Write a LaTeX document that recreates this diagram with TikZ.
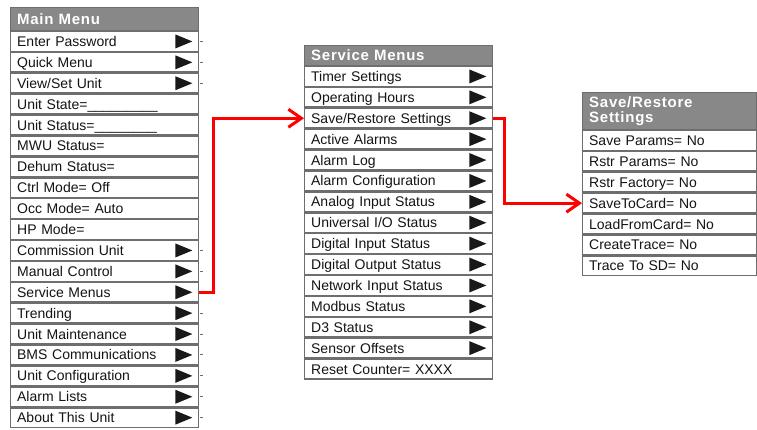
\documentclass[tikz,border=0pt]{standalone}
\usepackage{fontspec}
\setmainfont{Liberation Sans}
\newfontfamily\hdrfont[LetterSpace=5]{Liberation Sans}
\usetikzlibrary{positioning,arrows.meta}

\definecolor{hdrgray}{HTML}{888888}
\definecolor{rulegray}{HTML}{6E6E6E}

\begin{document}
\begin{tikzpicture}[x=1pt,y=-1pt,
  font=\fontsize{14}{16}\selectfont,>={Straight Barb[length=13pt,width=18pt]},
  hdr/.style={draw=rulegray,line width=1.3pt,fill=hdrgray,text=white,anchor=west,align=left,
    inner xsep=6.5pt,text width=174.7pt,font=\hdrfont\bfseries\fontsize{15}{15.5}\selectfont},
  row/.style={draw=rulegray,line width=1.3pt,fill=white,text=black!92,align=left,inner xsep=6.5pt,
    text width=174.7pt,minimum height=19.6pt,text height=11pt,text depth=1pt},
  sub/.style={row,path picture={\fill[black!90] ([xshift=-6pt]path picture bounding box.east)
    -- ++(-17pt,7pt) -- ++(0,-14pt) -- cycle;}},
  msub/.style={sub,append after command={\pgfextra{\draw[rulegray,line width=1pt]
    ([xshift=1pt]\tikzlastnode.east) -- ++(3pt,0);}}},
  link/.style={draw=red,line width=3pt,->}
]
\useasboundingbox (0,0) rectangle (757,430);
\clip (0,0) rectangle (757,430);

% main menu
\node[hdr,minimum height=22.7pt] (mh) at (10,19) {Main Menu};
\node[msub,below=0pt of mh] (m1) {Enter Password};
\node[msub,below=0pt of m1] (m2) {Quick Menu};
\node[msub,below=0pt of m2] (m3) {View/Set Unit};
\node[row,below=0pt of m3] (m4) {Unit State=\_\_\_\_\_\_\_\_\_};
\node[row,below=0pt of m4] (m5) {Unit Status=\_\_\_\_\_\_\_\_};
\node[row,below=0pt of m5] (m6) {MWU Status=};
\node[row,below=0pt of m6] (m7) {Dehum Status=};
\node[row,below=0pt of m7] (m8) {Ctrl Mode= Off};
\node[row,below=0pt of m8] (m9) {Occ Mode= Auto};
\node[row,below=0pt of m9] (m10) {HP Mode=};
\node[msub,below=0pt of m10] (m11) {Commission Unit};
\node[msub,below=0pt of m11] (m12) {Manual Control};
\node[msub,below=0pt of m12] (m13) {Service Menus};
\node[msub,below=0pt of m13] (m14) {Trending};
\node[msub,below=0pt of m14] (m15) {Unit Maintenance};
\node[msub,below=0pt of m15] (m16) {BMS Communications};
\node[msub,below=0pt of m16] (m17) {Unit Configuration};
\node[msub,below=0pt of m17] (m18) {Alarm Lists};
\node[msub,below=0pt of m18] (m19) {About This Unit};

% service menus
\node[hdr,minimum height=19.7pt] (sh) at (304,55.5) {Service Menus};
\node[sub,below=0pt of sh] (s1) {Timer Settings};
\node[sub,below=0pt of s1] (s2) {Operating Hours};
\node[sub,below=0pt of s2] (s3) {Save/Restore Settings};
\node[sub,below=0pt of s3] (s4) {Active Alarms};
\node[sub,below=0pt of s4] (s5) {Alarm Log};
\node[sub,below=0pt of s5] (s6) {Alarm Configuration};
\node[sub,below=0pt of s6] (s7) {Analog Input Status};
\node[sub,below=0pt of s7] (s8) {Universal I/O Status};
\node[sub,below=0pt of s8] (s9) {Digital Input Status};
\node[sub,below=0pt of s9] (s10) {Digital Output Status};
\node[sub,below=0pt of s10] (s11) {Network Input Status};
\node[sub,below=0pt of s11] (s12) {Modbus Status};
\node[sub,below=0pt of s12] (s13) {D3 Status};
\node[sub,below=0pt of s13] (s14) {Sensor Offsets};
\node[row,below=0pt of s14] (s15) {Reset Counter= XXXX};

% save/restore settings
\node[hdr,text width=160.7pt,minimum height=36.7pt] (rh) at (582,111) {Save/Restore\\Settings};
\node[row,text width=160.7pt,below=0pt of rh] (r1) {Save Params= No};
\node[row,text width=160.7pt,below=0pt of r1] (r2) {Rstr Params= No};
\node[row,text width=160.7pt,below=0pt of r2] (r3) {Rstr Factory= No};
\node[row,text width=160.7pt,below=0pt of r3] (r4) {SaveToCard= No};
\node[row,text width=160.7pt,below=0pt of r4] (r5) {LoadFromCard= No};
\node[row,text width=160.7pt,below=0pt of r5] (r6) {CreateTrace= No};
\node[row,text width=160.7pt,below=0pt of r6] (r7) {Trace To SD= No};

\draw[link] (m13.east) -- ++(14,0) |- (s3.west);
\draw[link] (s3.east) -- ++(11,0) |- (r4.west);
\end{tikzpicture}
\end{document}
